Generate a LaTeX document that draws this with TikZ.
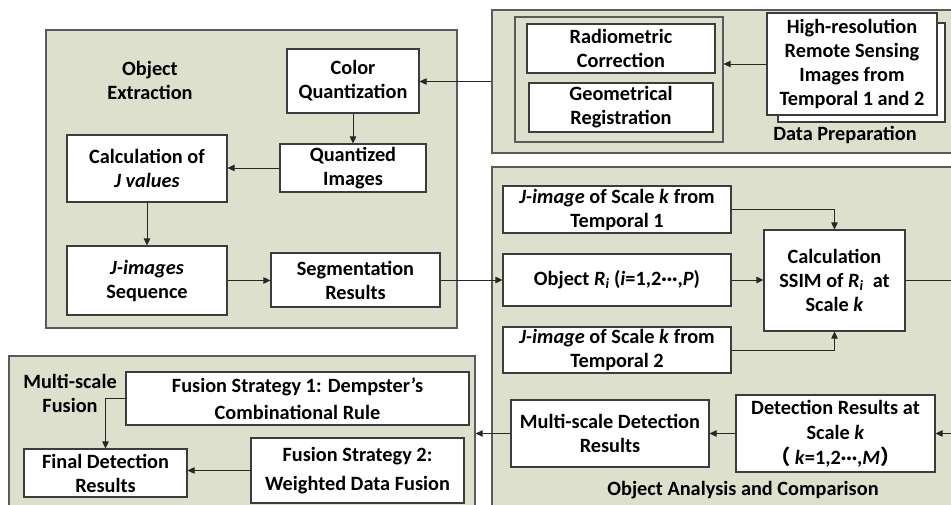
\documentclass[tikz,border=0pt]{standalone}
\usepackage{fontspec}
\setmainfont{Carlito}
\newfontfamily\cjk{Noto Sans CJK SC}
\usetikzlibrary{arrows.meta,calc}
\definecolor{panelfill}{RGB}{221,224,205}
\definecolor{panelline}{RGB}{90,90,90}
\definecolor{boxline}{RGB}{60,60,60}
\definecolor{wireline}{RGB}{40,40,40}
\tikzset{
  panel/.style={draw=panelline, fill=panelfill, line width=1.2pt, inner sep=0pt},
  box/.style={draw=boxline, fill=white, line width=1.1pt, inner sep=0pt,
    align=center, font=\fontsize{20.3}{24}\selectfont\bfseries},
  lbl/.style={inner sep=0pt, align=center, font=\fontsize{20.3}{24}\selectfont\bfseries},
  arr/.style={draw=wireline, line width=0.9pt, -{Triangle[length=7pt,width=6.5pt]}},
}
\begin{document}
\begin{tikzpicture}[x=1pt,y=-1pt]
\useasboundingbox (0,0) rectangle (951,505);
\fill[white] (0,0) rectangle (951,505);
\clip (0,0) rectangle (951,505);

% ---- Data preparation
\node[panel, minimum width=468pt, minimum height=143pt] (dp) at (726,81.5) {};
\node[panel, minimum width=208pt, minimum height=125pt] (inner) at (619,79.5) {};
\node[box, minimum width=188pt, minimum height=49pt] (rad) at (621,48.5) {Radiometric\\Correction};
\node[box, minimum width=184pt, minimum height=49pt] (geo) at (621,107.5) {Geometrical\\Registration};
\node[box, minimum width=167pt, minimum height=99pt] (hrshadow) at (861.5,72.5) {};
\node[box, minimum width=170pt, minimum height=102pt] (hr) at (852,64) {High-resolution\\Remote Sensing\\Images from\\Temporal 1 and 2};
\node[lbl] (dplbl) at (845,135) {Data Preparation};

% ---- Object extraction
\node[panel, minimum width=411pt, minimum height=298pt] (oe) at (251.5,179) {};
\node[lbl] (oelbl) at (150,80) {Object\\Extraction};
\node[box, minimum width=132pt, minimum height=64pt] (cq) at (353,81) {Color\\Quantization};
\node[box, minimum width=146pt, minimum height=48pt] (qi) at (353,168) {Quantized\\Images};
\node[box, minimum width=160pt, minimum height=67pt] (calc) at (147,168.5) {Calculation of\\\textit{J values}};
\node[box, minimum width=160pt, minimum height=69pt] (jimg) at (147,280.5) {\textit{J-images}\\Sequence};
\node[box, minimum width=169pt, minimum height=54pt] (seg) at (355.5,280) {Segmentation\\Results};

% ---- Object analysis and comparison
\node[panel, minimum width=468pt, minimum height=348pt] (oa) at (726,341) {};
\node[box, minimum width=228pt, minimum height=47pt] (t1) at (617,209.5) {\textit{J-image} of Scale \textit{k} from\\Temporal 1};
\node[box, minimum width=228pt, minimum height=52pt] (ri) at (617,280) {Object \textit{R}\textsubscript{\textit{i}} (\textit{i}=1,2···,\textit{P})};
\node[box, minimum width=228pt, minimum height=46pt] (t2) at (617,350) {\textit{J-image} of Scale \textit{k} from\\Temporal 2};
\node[box, minimum width=141pt, minimum height=101pt] (ssim) at (834.5,280.5) {Calculation\\SSIM of \textit{R}\textsubscript{\textit{i}}\ \ at\\Scale \textit{k}};
\node[box, minimum width=199pt, minimum height=77pt, font=\fontsize{20.3}{25}\selectfont\bfseries] (det) at (835.5,433.5) {Detection Results at\\Scale \textit{k}\\{\cjk （}\hspace{4pt}\textit{k}=1,2···,\textit{M}{\cjk ）}};
\node[box, minimum width=198pt, minimum height=67pt] (msd) at (610,433.5) {Multi-scale Detection\\Results};
\node[lbl] (oalbl) at (743,490) {Object Analysis and Comparison};
\coordinate (edge) at (958,0);

% ---- Multi-scale fusion
\node[panel, minimum width=466pt, minimum height=159pt] (msf) at (242,435.5) {};
\node[lbl] (msflbl) at (70,393) {Multi-scale\\Fusion};
\node[box, minimum width=343pt, minimum height=53pt, font=\fontsize{20.3}{27}\selectfont\bfseries] (fs1) at (297.5,398.5) {Fusion Strategy 1: Dempster’s\\Combinational Rule};
\node[box, minimum width=163pt, minimum height=48pt] (final) at (105.5,473) {Final Detection\\Results};
\node[box, minimum width=213pt, minimum height=65pt, font=\fontsize{20.3}{29}\selectfont\bfseries] (fs2) at (357.5,470.5) {Fusion Strategy 2:\\Weighted Data Fusion};

% ---- connectors
\draw[arr] (hr.west) -- (hr.west -| inner.east);
\draw[arr] (dp.west) -- (dp.west -| cq.east);
\draw[arr] (cq.south) -- (qi.north);
\draw[arr] (qi.west) -- (qi.west -| calc.east);
\draw[arr] (calc.south) -- (jimg.north);
\draw[arr] (jimg.east) -- (jimg.east -| seg.west);
\draw[arr] (seg.east) -- (seg.east -| ri.west);
\draw[arr] (t1.east) -| (ssim.north);
\draw[arr] (t2.east) -| (ssim.south);
\draw[arr] (ri.east) -- (ri.east -| ssim.west);
\draw[arr] (ssim.east) -- (ssim.east -| edge) -- (edge |- det.east) -- (det.east);
\draw[arr] (det.west) -- (det.west -| msd.east);
\draw[arr] (msd.west) -- (msd.west -| msf.east);
\draw[arr] (fs1.west) -| (final.north);
\draw[arr] (fs2.west) -- (fs2.west -| final.east);
\end{tikzpicture}
\end{document}
